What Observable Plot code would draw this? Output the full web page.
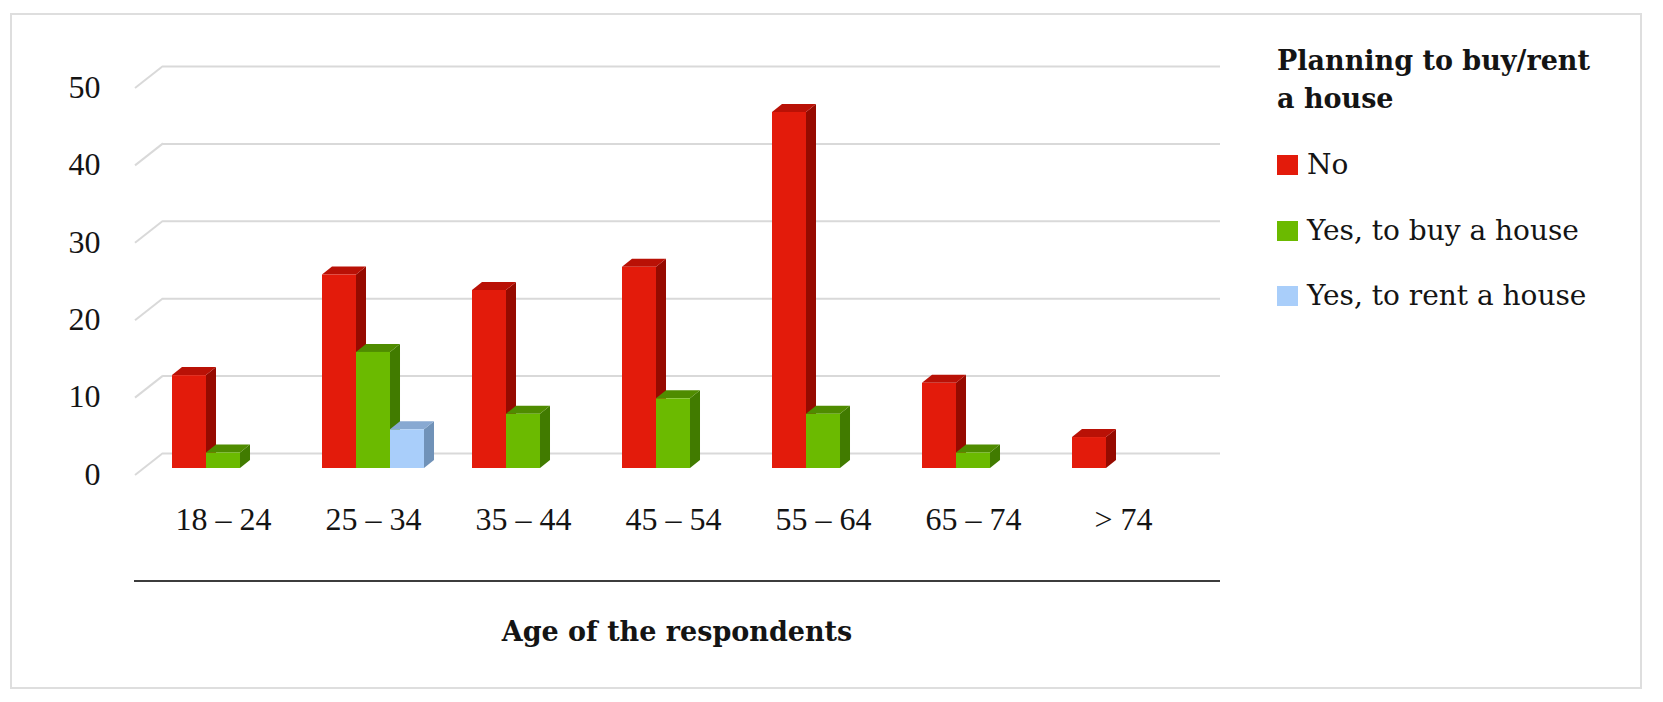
<!DOCTYPE html>
<html><head><meta charset="utf-8">
<script src="https://cdn.jsdelivr.net/npm/d3@7"></script>
<script src="https://cdn.jsdelivr.net/npm/@observablehq/plot@0.6"></script>
<style>
html,body{margin:0;padding:0;background:#fff;}
#wrap{position:relative;width:1663px;height:702px;font-family:"Liberation Serif",serif;color:#141414;overflow:hidden;}
#border{position:absolute;left:10px;top:13px;width:1632px;height:676px;border:2px solid #dedede;box-sizing:border-box;}
#chart{position:absolute;left:0;top:0;}
#legend{position:absolute;left:1277px;top:42px;font-family:"DejaVu Serif",serif;}
#legend .title{font-weight:bold;font-size:27px;line-height:38px;white-space:nowrap;}
#legend .item{position:absolute;left:0;white-space:nowrap;font-size:28px;line-height:30px;display:flex;align-items:center;}
#legend .sw{display:inline-block;width:21px;height:20px;margin-right:9px;}
#xrule{position:absolute;left:134px;top:580px;width:1086px;border-top:2px solid #3c3c3c;}
#xtitle{position:absolute;left:134px;width:1086px;top:612px;text-align:center;font-family:"DejaVu Serif",serif;font-weight:bold;font-size:27px;line-height:40px;}
</style></head><body>
<div id="wrap">
  <div id="border"></div>
  <div id="chart"></div>
  <div id="legend"></div>
  <div id="xrule"></div>
  <div id="xtitle">Age of the respondents</div>
</div>
<script>
// ---- data ----
const ages = ["18 – 24", "25 – 34", "35 – 44", "45 – 54", "55 – 64", "65 – 74", "> 74"];
const seriesNames = ["No", "Yes, to buy a house", "Yes, to rent a house"];
const noValues   = [12, 25, 23, 26, 46, 11, 4];
const buyValues  = [2, 15, 7, 9, 7, 2, 0];
const rentValues = [0, 5, 0, 0, 0, 0, 0];
const yTicks = [0, 10, 20, 30, 40, 50];
const legendTitle = ["Planning to buy/rent", "a house"];
const frontColors = ["#e31b0b", "#6bba00", "#a9cefa"];
const sideColors  = ["#960a00", "#417b00", "#7092b8"];
const topColors   = ["#b91106", "#4f8c00", "#88a9d2"];

// ---- table built from arrays ----
const seriesValues = [noValues, buyValues, rentValues];
const rows = ages.flatMap((age, i) =>
  seriesNames.map((s, j) => ({age, series: s, si: j, value: seriesValues[j][i]}))
).filter(d => d.value > 0);

// ---- layout ----
const W = 1663, H = 702;
const mL = 135, frameRight = 1192, frameBottom = 475;
const DX = 10, DY = 8;          // bar depth
const BX = 28, BY = 22;        // floor depth (front -> back wall)
const xOpts = {type: "band", domain: ages, range: [144, 1201], paddingInner: 0.323, paddingOuter: 0.169};
const xs = Plot.scale({x: xOpts});
const bw = xs.bandwidth != null ? xs.bandwidth
  : d3.scaleBand(ages, [144, 1201]).paddingInner(0.323).paddingOuter(0.169).bandwidth();
const barW = bw / 3;

function diagonals(index, scales) {
  const g = d3.create("svg:g");
  for (const t of yTicks) {
    const yy = scales.y(t);
    g.append("line")
      .attr("x1", mL).attr("y1", yy + 7)
      .attr("x2", mL + BX).attr("y2", yy + 7 - BY)
      .attr("stroke", "#d9d9d9").attr("stroke-width", 2);
  }
  return g.node();
}

function faces(index, scales) {
  const g = d3.create("svg:g");
  for (const d of rows) {
    const l = scales.x(d.age) + d.si * barW, r = l + barW;
    const t = scales.y(d.value), b = scales.y(0);
    g.append("polygon")
      .attr("points", [[r, t], [r + DX, t - DY], [r + DX, b - DY], [r, b]].map(p => p.join(",")).join(" "))
      .attr("fill", sideColors[d.si]);
    g.append("polygon")
      .attr("points", [[l, t], [r, t], [r + DX, t - DY], [l + DX, t - DY]].map(p => p.join(",")).join(" "))
      .attr("fill", topColors[d.si]);
  }
  return g.node();
}

const chart = Plot.plot({
  width: W,
  height: H,
  marginLeft: mL,
  marginRight: W - frameRight,
  marginTop: 20,
  marginBottom: H - frameBottom,
  x: {...xOpts, axis: null},
  y: {domain: [0, 50], range: [468, 81], axis: null},
  style: {fontFamily: "'Liberation Serif', serif", background: "transparent", color: "#141414", overflow: "visible"},
  marks: [
    Plot.ruleY(yTicks, {y: d => d, dx: BX, dy: 7 - BY, stroke: "#d9d9d9", strokeWidth: 2}),
    diagonals,
    faces,
    ...seriesNames.map((s, j) => Plot.barY(rows.filter(d => d.si === j), {
      x: "age", y: "value", fill: frontColors[j],
      insetLeft: j * barW, insetRight: (2 - j) * barW
    })),
    Plot.text(yTicks, {y: d => d, text: d => String(d), frameAnchor: "left", textAnchor: "end",
      dx: -35, dy: 6, fontSize: 32, fill: "#141414"}),
    Plot.text(ages, {x: d => d, text: d => d, frameAnchor: "bottom", dy: 54, fontSize: 32, fill: "#141414"})
  ]
});
document.getElementById("chart").appendChild(chart);

// ---- legend ----
const leg = d3.select("#legend");
leg.append("div").attr("class", "title").html(legendTitle.join("<br>"));
const rowTops = [108, 174, 239];
seriesNames.forEach((s, j) => {
  const it = leg.append("div").attr("class", "item").style("top", rowTops[j] + "px");
  it.append("span").attr("class", "sw").style("background", frontColors[j]);
  it.append("span").text(s);
});
</script>
</body></html>
